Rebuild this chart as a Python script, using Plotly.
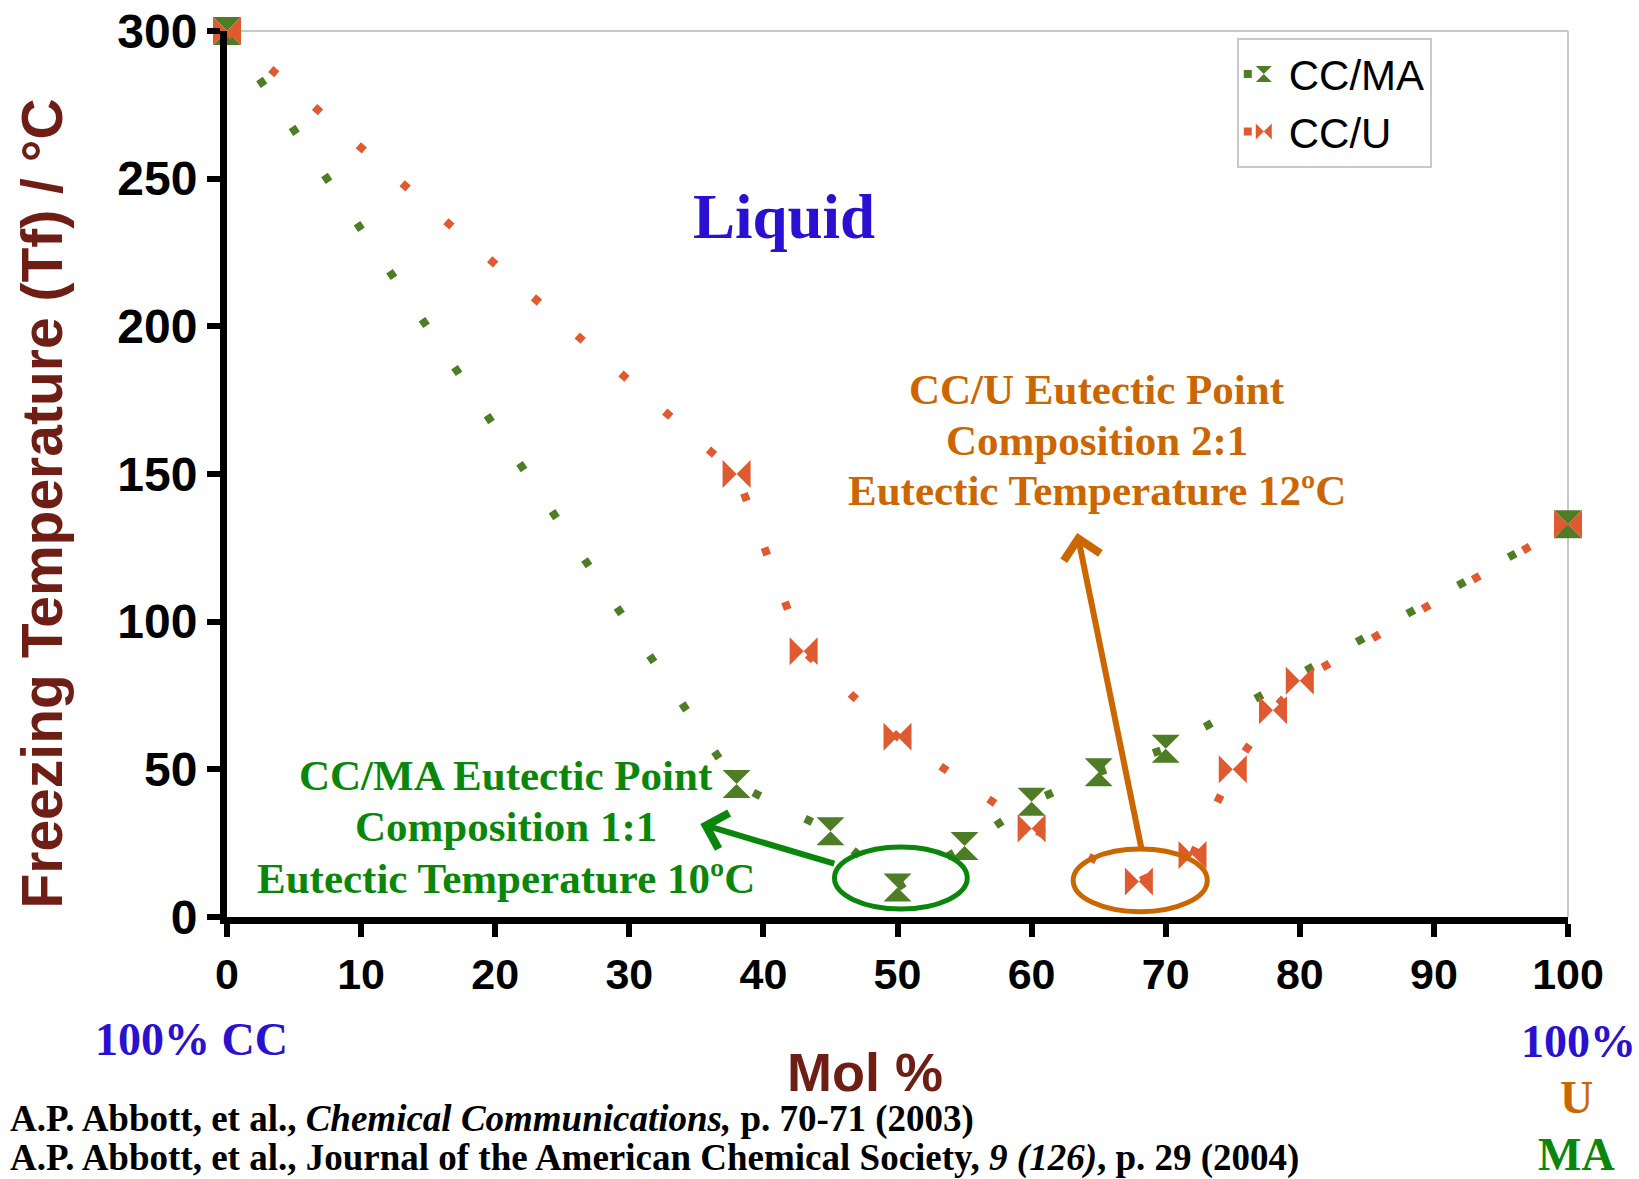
import plotly.graph_objects as go

# Freezing points of choline chloride mixtures (mol % of second component)
ma_mol = [0, 38, 45, 50, 55, 60, 65, 70, 100]
ma_temp = [300, 45, 29, 10, 24, 39, 49, 57, 133]

u_mol = [0, 38, 43, 50, 60, 68, 72, 75, 78, 80, 100]
u_temp = [300, 150, 90, 61, 30, 12, 21, 50, 70, 80, 133]

x_ticks = [0, 10, 20, 30, 40, 50, 60, 70, 80, 90, 100]
y_ticks = [0, 50, 100, 150, 200, 250, 300]

GREEN = "#4e7d25"
ORANGE = "#e05a30"
TXT_GREEN = "#0a870a"
TXT_ORANGE = "#cc6600"
BLUE = "#2a10d0"
BROWN = "#6e1e14"
SERIF = "Liberation Serif, Times New Roman, serif"
SANS = "Liberation Sans, Arial, sans-serif"

fig = go.Figure()

fig.add_trace(go.Scatter(
    x=ma_mol, y=ma_temp, name="CC/MA", mode="lines+markers",
    line=dict(color=GREEN, width=8, dash="8px,50px"),
    marker=dict(symbol="hourglass", size=28, color=GREEN),
    cliponaxis=False,
))
fig.add_trace(go.Scatter(
    x=u_mol, y=u_temp, name="CC/U", mode="lines+markers",
    line=dict(color=ORANGE, width=8, dash="8px,50px"),
    marker=dict(symbol="bowtie", size=28, color=ORANGE),
    cliponaxis=False,
))


def text_block(lines, x, ys, color, size):
    """One annotation per line so the line spacing can be set freely."""
    return [
        dict(x=x, y=y, xref="x", yref="y", text=f"<b>{t}</b>", showarrow=False,
             xanchor="center", yanchor="middle",
             font=dict(family=SERIF, size=size, color=color))
        for t, y in zip(lines, ys)
    ]


def paper_text(text, x, y, color, size, family=SERIF, xanchor="center"):
    return dict(x=x, y=y, xref="paper", yref="paper", text=text, showarrow=False,
                xanchor=xanchor, yanchor="middle",
                font=dict(family=family, size=size, color=color))


annotations = [
    dict(x=41.5, y=237, xref="x", yref="y", text="<b>Liquid</b>", showarrow=False,
         xanchor="center", yanchor="middle",
         font=dict(family=SERIF, size=63, color=BLUE)),
]
annotations += text_block(
    ["CC/U Eutectic Point", "Composition 2:1", "Eutectic Temperature 12ºC"],
    64.9, [178.5, 161.2, 144.3], TXT_ORANGE, 43)
annotations += text_block(
    ["CC/MA Eutectic Point", "Composition 1:1", "Eutectic Temperature 10ºC"],
    20.8, [47.9, 30.5, 13.2], TXT_GREEN, 43)

annotations += [
    # arrows pointing from the eutectic points to their labels
    dict(x=35.3, y=31.5, ax=45.4, ay=17.9, xref="x", yref="y", axref="x", ayref="y",
         text="", showarrow=True, arrowhead=4, arrowsize=1.2, arrowwidth=6,
         arrowcolor=TXT_GREEN),
    dict(x=63.4, y=130, ax=68.2, ay=23, xref="x", yref="y", axref="x", ayref="y",
         text="", showarrow=True, arrowhead=4, arrowsize=1.2, arrowwidth=6,
         arrowcolor=TXT_ORANGE),
    # axis titles
    dict(x=-0.1381, y=0.4664, xref="paper", yref="paper", textangle=-90,
         xanchor="center", yanchor="middle",
         text="<b>Freezing Temperature (Tf) / °C</b>", showarrow=False,
         font=dict(family=SANS, size=57, color=BROWN)),
    paper_text("<b>Mol %</b>", 0.4754, -0.1744, BROWN, 54, family=SANS),
    # composition end labels
    paper_text("<b>100% CC</b>", -0.0268, -0.1388, BLUE, 46),
    paper_text("<b>100%</b>", 0.9635, -0.141, BLUE, 46, xanchor="left"),
    paper_text("<b>U</b>", 1.006, -0.2038, TXT_ORANGE, 46),
    paper_text("<b>MA</b>", 1.006, -0.2686, TXT_GREEN, 46),
    # references
    paper_text("<b>A.P. Abbott, et al., <i>Chemical Communications,</i> p. 70-71 (2003)</b>",
               -0.1633, -0.2276, "black", 37, xanchor="left"),
    paper_text("<b>A.P. Abbott, et al., Journal of the American Chemical Society, "
               "<i>9 (126)</i>, p. 29 (2004)</b>",
               -0.1633, -0.2718, "black", 37, xanchor="left"),
]

shapes = [
    # plot frame on top and right
    dict(type="line", xref="paper", yref="paper", x0=0, x1=1, y0=1, y1=1,
         line=dict(color="#c8c8c8", width=2), layer="below"),
    dict(type="line", xref="paper", yref="paper", x0=1, x1=1, y0=0, y1=1,
         line=dict(color="#c8c8c8", width=2), layer="below"),
    # eutectic point highlights
    dict(type="circle", xref="x", yref="y", x0=45.3, x1=55.2, y0=2.7, y1=23.7,
         line=dict(color=TXT_GREEN, width=5)),
    dict(type="circle", xref="x", yref="y", x0=63.1, x1=73.1, y0=1.8, y1=23.0,
         line=dict(color=TXT_ORANGE, width=5)),
]

fig.update_layout(
    width=1639, height=1179,
    margin=dict(l=227, r=71, t=31, b=262, autoexpand=False),
    paper_bgcolor="white", plot_bgcolor="white",
    showlegend=True,
    legend=dict(x=0.753, y=0.992, xanchor="left", yanchor="top",
                bordercolor="#c8c8c8", borderwidth=2, bgcolor="white",
                font=dict(family=SANS, size=42, color="black"),
                itemwidth=40),
    annotations=annotations,
    shapes=shapes,
)

fig.update_xaxes(
    range=[0, 100], tickvals=x_ticks, showgrid=False, zeroline=False,
    showline=True, linecolor="black", linewidth=7, automargin=False,
    ticks="outside", ticklen=13, tickwidth=6, tickcolor="black",
    ticklabelstandoff=0,
    tickfont=dict(family=SANS, size=43, color="black", weight="bold"),
)
fig.update_yaxes(
    range=[0, 300], tickvals=y_ticks, showgrid=False, zeroline=False,
    showline=True, linecolor="black", linewidth=7, automargin=False,
    ticks="outside", ticklen=13, tickwidth=6, tickcolor="black",
    ticklabelstandoff=0,
    tickfont=dict(family=SANS, size=48, color="black", weight="bold"),
)

fig.write_html("out.html")
